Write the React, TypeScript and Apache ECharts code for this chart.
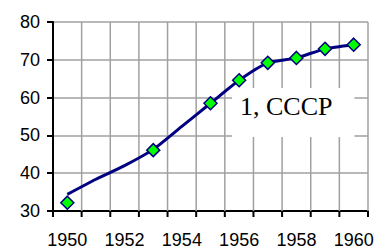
import React, { useEffect, useRef } from "react";
import * as echarts from "echarts";

const years = ["1950", "1951", "1952", "1953", "1954", "1955", "1956", "1957", "1958", "1959", "1960"];
const trendValues = [34.4, 38.4, 42.0, 46.3, 52.4, 58.5, 64.6, 69.2, 70.5, 72.9, 74.0];
const markerValues: (number | string)[] = [32.2, "-", "-", 46.1, "-", 58.5, 64.6, 69.2, 70.5, 72.9, 74.0];
const yTicks = { min: 30, max: 80, interval: 10 };
const labelText = "1, СССР";

export default function App() {
  const ref = useRef<HTMLDivElement>(null);
  useEffect(() => {
    if (!ref.current) return;
    const chart = echarts.init(ref.current, undefined, { renderer: "svg" });
    const grey = "#a0a0a0";
    const renderGrid = (params: any, api: any) => {
      const i = api.value(0);
      const bottom = api.coord([i, yTicks.min]);
      const top = api.coord([i, yTicks.max]);
      const w = api.size([1, 0])[0];
      const xs = [bottom[0] - w / 2];
      if (i === years.length - 1) xs.push(bottom[0] + w / 2);
      const children: any[] = [];
      xs.forEach((x, k) => {
        if (!(i === 0 && k === 0)) {
          children.push({
            type: "line",
            shape: { x1: x, y1: top[1], x2: x, y2: bottom[1] },
            style: { stroke: grey, lineWidth: 1.5 },
          });
        }
        children.push({
          type: "line",
          shape: { x1: x, y1: bottom[1], x2: x, y2: bottom[1] + 6 },
          style: { stroke: "#000", lineWidth: 2 },
        });
      });
      return { type: "group", children };
    };
    chart.setOption({
      animation: false,
      backgroundColor: "#ffffff",
      title: {
        text: labelText,
        left: 232,
        top: 88,
        z: 2,
        padding: [5, 22, 18, 8],
        backgroundColor: "#ffffff",
        textStyle: {
          color: "#000",
          fontSize: 26,
          fontWeight: "normal",
          fontFamily: "Liberation Serif, Times New Roman, serif",
        },
      },
      grid: { left: 53, right: 11, top: 22, bottom: 39, containLabel: false },
      xAxis: {
        type: "category",
        data: years,
        boundaryGap: true,
        axisLine: { show: true, lineStyle: { color: "#000", width: 2 } },
        axisTick: { show: false },
        axisLabel: {
          interval: 1,
          color: "#000",
          fontSize: 18,
          fontFamily: "Liberation Sans, Arial, sans-serif",
          margin: 20,
        },
        splitLine: { show: false },
      },
      yAxis: {
        type: "value",
        min: yTicks.min,
        max: yTicks.max,
        interval: yTicks.interval,
        axisLine: { show: true, lineStyle: { color: "#000", width: 2 } },
        axisTick: { show: true, length: 6, lineStyle: { color: "#000", width: 2 } },
        axisLabel: {
          color: "#000",
          fontSize: 18,
          fontFamily: "Liberation Sans, Arial, sans-serif",
          margin: 13,
        },
        splitLine: { show: true, lineStyle: { color: grey, width: 1.5 } },
      },
      series: [
        {
          type: "custom",
          silent: true,
          clip: false,
          z: 1,
          data: years.map((_, i) => [i]),
          encode: { x: 0 },
          renderItem: renderGrid,
        },
        {
          type: "line",
          data: trendValues,
          symbol: "none",
          smooth: 0.2,
          z: 3,
          lineStyle: { color: "#000080", width: 3 },
        },
        {
          type: "scatter",
          data: markerValues,
          symbol: "diamond",
          symbolSize: 13,
          z: 4,
          itemStyle: { color: "#00ff00", borderColor: "#000080", borderWidth: 1.5, opacity: 1 },
        },
      ],
    });
    return () => chart.dispose();
  }, []);
  return <div ref={ref} style={{ position: "fixed", left: 0, top: 0, width: 379, height: 250 }} />;
}
